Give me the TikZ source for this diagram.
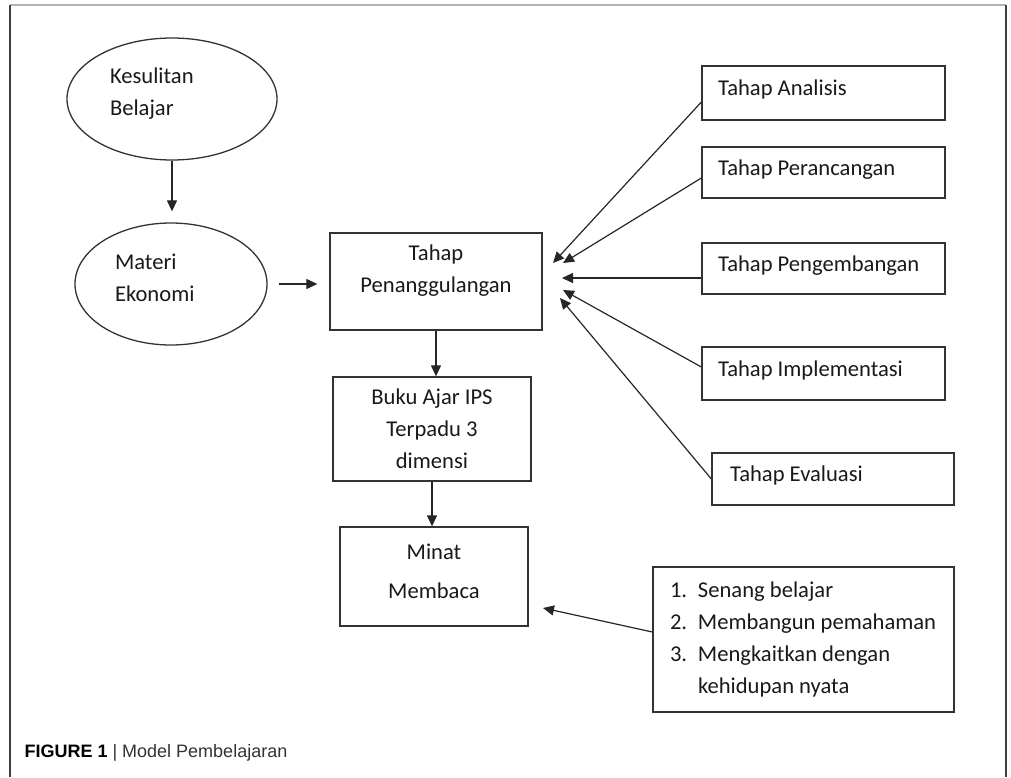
\documentclass[tikz,border=0pt]{standalone}
\usepackage{fontspec}
\setmainfont{Carlito}
\newfontfamily\capfont{Liberation Sans}
\usetikzlibrary{arrows.meta,shapes.geometric}

\begin{document}
\begin{tikzpicture}[x=1pt,y=-1pt,>={Triangle[length=11pt,width=10pt]},
    every node/.style={text=black!90,font=\fontsize{22.6pt}{32pt}\selectfont},
    oval/.style={ellipse,draw=black!80,line width=1.3pt,align=flush left,inner sep=0pt},
    box/.style={rectangle,draw=black!80,line width=1.3pt,align=center,inner sep=0pt},
    stage/.style={box,align=flush left,inner xsep=16pt,text width=211pt,text depth=10pt},
    link/.style={->,black!85,line width=1.2pt}]
    \useasboundingbox (0,0) rectangle (1011,777);

    % Frame
    \draw[gray!60,line width=1.5pt] (10,5) -- (1006,5);
    \draw[black!75,line width=1.5pt] (10,5) -- (10,777);
    \draw[black!75,line width=1.8pt] (1006,5) -- (1006,777);

    % Left column
    \node[oval,minimum width=210pt,minimum height=122pt,text width=124pt,text depth=47pt] (kes) at (172,99)
        {Kesulitan\\Belajar};
    \node[oval,minimum width=192pt,minimum height=122pt,text width=112pt,text depth=45pt] (mat) at (171,284)
        {Materi\\Ekonomi};

    % Middle column
    \node[box,minimum width=212pt,minimum height=97pt] (tahap) at (436,281.5) {};
    \node[align=center] (tahaptxt) at (436,270.5) {Tahap\\Penanggulangan};
    \node[box,minimum width=198pt,minimum height=104pt] (buku) at (432,429)
        {Buku Ajar IPS\\Terpadu 3\\dimensi};
    \node[box,minimum width=188pt,minimum height=99pt] (minat) at (434,576.5) {};
    \node[align=center] (minattxt) at (434,571) {Minat\\[7pt]Membaca};

    % Stages
    \node[stage,minimum height=54pt] (ana) at (823.5,93) {Tahap Analisis};
    \node[stage,minimum height=51pt] (per) at (823.5,172.5) {Tahap Perancangan};
    \node[stage,minimum height=51pt] (peng) at (823.5,268.5) {Tahap Pengembangan};
    \node[stage,minimum height=53pt] (imp) at (823.5,373.5) {Tahap Implementasi};
    \node[stage,minimum height=52pt,inner xsep=18pt,text width=206pt] (eva) at (833,479)
        {Tahap Evaluasi};

    % List
    \node[box,align=flush left,minimum height=145pt,inner xsep=17pt,text width=267pt] (list) at (803.5,639.5)
        {\makebox[28pt][l]{1.}Senang belajar\\
         \makebox[28pt][l]{2.}Membangun pemahaman\\
         \makebox[28pt][l]{3.}Mengkaitkan dengan\\
         \makebox[28pt]{}kehidupan nyata};

    % Arrows
    \draw[link,shorten >=11pt] (kes.south) -- (kes.south |- mat.north);
    \draw[link,shorten <=11pt,shorten >=12pt] (mat.east) -- (mat.east -| tahap.west);
    \draw[link] (tahap.south) -- (tahap.south |- buku.north);
    \draw[link] (buku.south) -- (buku.south |- minat.north);

    \coordinate (inA) at (553,263);
    \coordinate (inP) at (563,263);
    \coordinate (inG) at (562,278);
    \coordinate (inI) at (563,290);
    \coordinate (inE) at (560,298);
    \coordinate (inM) at (543,608);
    \draw[link] ([yshift=-9pt]ana.west) -- (inA);
    \draw[link] ([yshift=-5.5pt]per.west) -- (inP);
    \draw[link] ([yshift=-9.5pt]peng.west) -- (inG);
    \draw[link] ([yshift=6.5pt]imp.west) -- (inI);
    \draw[link] (eva.west) -- (inE);
    \draw[link] ([yshift=7.5pt]list.west) -- (inM);

    % Caption
    \node[anchor=west,font=\capfont\fontsize{18pt}{22pt}\selectfont,text=black] (cap) at (21,753)
        {\textbf{FIGURE 1} {\color{black!80}| Model Pembelajaran}};
\end{tikzpicture}
\end{document}
